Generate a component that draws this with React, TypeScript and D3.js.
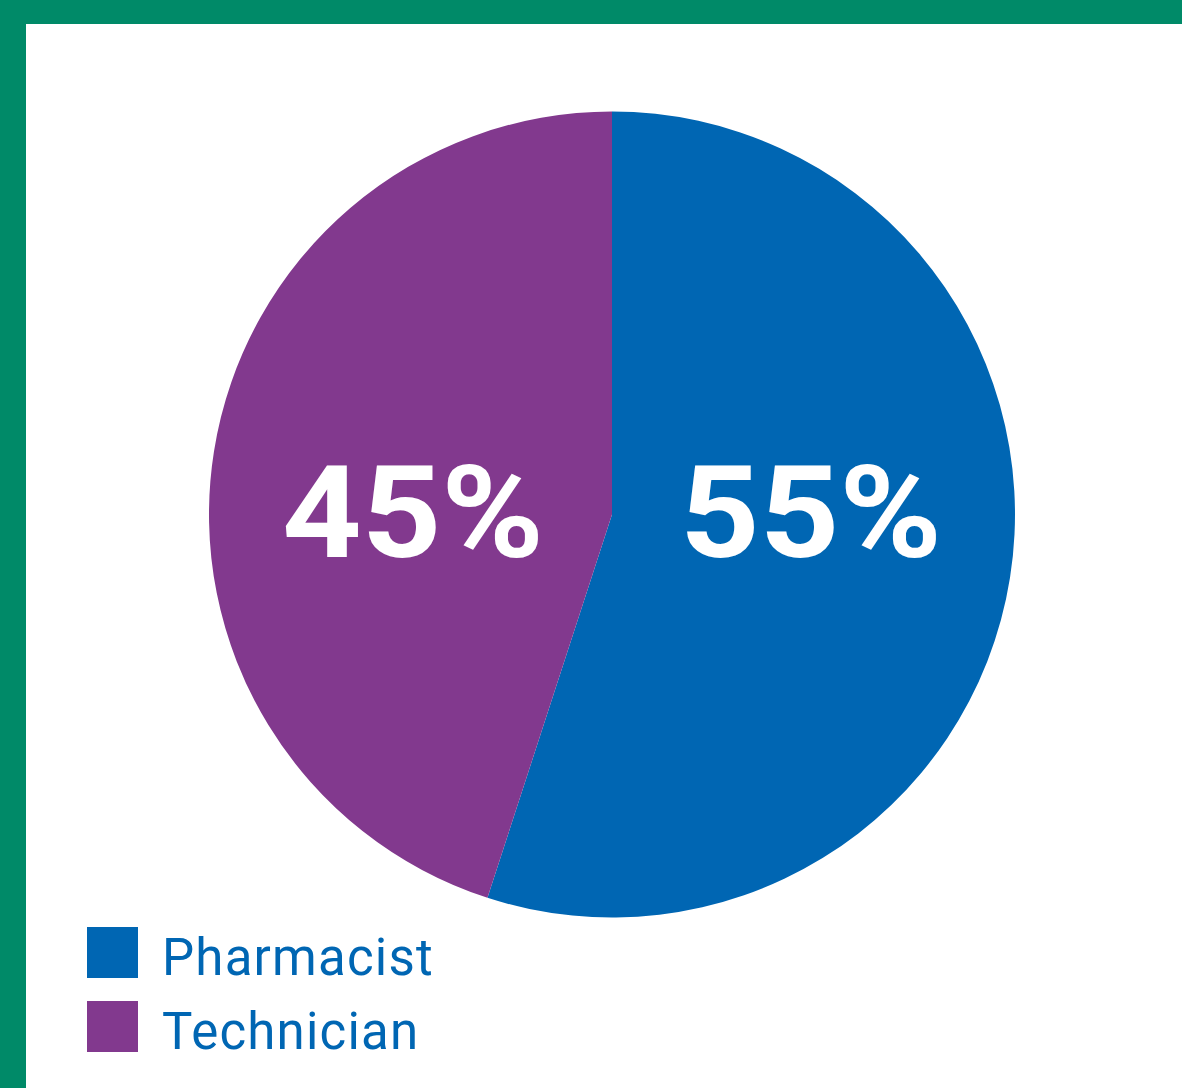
import React from "react";
import * as d3 from "d3";

const categories = ["Pharmacist", "Technician"];
const values = [55, 45];
const colors = ["#0066b3", "#82398e"];
const labels = ["55%", "45%"];

export default function App() {
  const W = 1182, H = 1088;
  const cx = 612, cy = 514.5, R = 403;
  const pie = d3.pie<number>().sort(null).value((d) => d);
  const arcs = pie(values);
  const arcGen = d3.arc<d3.PieArcDatum<number>>().innerRadius(0).outerRadius(R);
  const labelArc = d3.arc<d3.PieArcDatum<number>>().innerRadius(R * 0.5).outerRadius(R * 0.5);
  return (
    <svg width={W} height={H} style={{ position: "absolute", left: 0, top: 0 }}>
      <rect x={0} y={0} width={W} height={H} fill="#ffffff" />
      <rect x={0} y={0} width={W} height={24} fill="#008a68" />
      <rect x={0} y={0} width={26} height={H} fill="#008a68" />
      <g transform={`translate(${cx},${cy})`}>
        {arcs.map((a, i) => (
          <path key={i} d={arcGen(a) || ""} fill={colors[i]} />
        ))}
        {arcs.map((a, i) => {
          const [x] = labelArc.centroid(a);
          return (
            <text
              key={"l" + i}
              x={x}
              y={42}
              textAnchor="middle"
              fill="#ffffff"
              fontFamily="Roboto, sans-serif"
              fontWeight={700}
              fontSize={128}
              textLength={262}
              lengthAdjust="spacingAndGlyphs"
            >
              {labels[i]}
            </text>
          );
        })}
      </g>
      {categories.map((c, i) => (
        <g key={c} transform={`translate(87,${927 + i * 74})`}>
          <rect x={0} y={0} width={51} height={51} fill={colors[i]} />
          <text
            x={75}
            y={48}
            fill="#0066b3"
            fontFamily="Roboto, sans-serif"
            fontWeight={400}
            fontSize={51}
            letterSpacing={1.2}
          >
            {c}
          </text>
        </g>
      ))}
    </svg>
  );
}
